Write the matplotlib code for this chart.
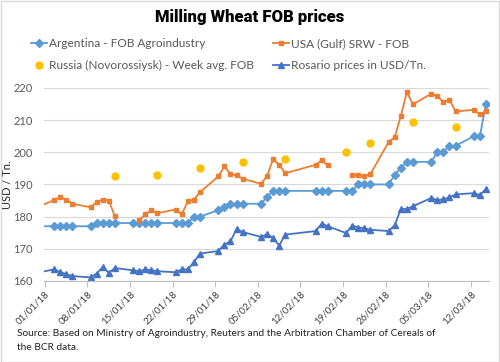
import numpy as np
import pandas as pd
import matplotlib
matplotlib.use("Agg")
import matplotlib.pyplot as plt
from matplotlib.patches import Rectangle

# daily business dates (Jan 15 and Feb 19 are US holidays -> gap in the Gulf series)
dates = ["2017-12-29",
         "2018-01-02", "2018-01-03", "2018-01-04", "2018-01-05",
         "2018-01-08", "2018-01-09", "2018-01-10", "2018-01-11", "2018-01-12",
         "2018-01-15", "2018-01-16", "2018-01-17", "2018-01-18", "2018-01-19",
         "2018-01-22", "2018-01-23", "2018-01-24", "2018-01-25", "2018-01-26",
         "2018-01-29", "2018-01-30", "2018-01-31", "2018-02-01", "2018-02-02",
         "2018-02-05", "2018-02-06", "2018-02-07", "2018-02-08", "2018-02-09",
         "2018-02-14", "2018-02-15", "2018-02-16",
         "2018-02-19", "2018-02-20", "2018-02-21", "2018-02-22", "2018-02-23",
         "2018-02-26", "2018-02-27", "2018-02-28", "2018-03-01", "2018-03-02",
         "2018-03-05", "2018-03-06", "2018-03-07", "2018-03-08", "2018-03-09",
         "2018-03-12", "2018-03-13", "2018-03-14"]

argentina = [177,
             177, 177, 177, 177,
             177, 178, 178, 178, 178,
             178, 178, 178, 178, 178,
             178, 178, 178, 180, 180,
             182, 183, 184, 184, 184,
             184, 186, 188, 188, 188,
             188, 188, 188,
             188, 188, 190, 190, 190,
             190, 193, 195, 197, 197,
             197, 200, 200, 202, 202,
             205, 205, 215]

usa_gulf = [182,
            185.1, 186.0, 185.3, 184.0,
            182.9, 184.5, 185.3, 185.0, 180.1,
            np.nan, 178.9, 180.7, 182.0, 181.1,
            182.2, 180.7, 184.8, 185.3, 187.6,
            192.5, 195.6, 193.2, 192.8, 191.8,
            190.2, 192.5, 197.8, 196.2, 193.5,
            196.1, 197.5, 195.9,
            np.nan, 192.9, 192.9, 192.6, 193.2,
            203.2, 204.7, 211.2, 218.7, 214.9,
            218.2, 217.5, 215.6, 216.4, 212.7,
            213.2, 211.8, 212.7]

rosario = [162,
           163.6, 162.8, 162.1, 161.5,
           161.1, 162.3, 164.3, 162.5, 164.0,
           163.3, 163.0, 163.6, 163.3, 163.0,
           162.7, 163.6, 163.6, 165.9, 168.5,
           169.3, 171.3, 172.3, 176.1, 175.2,
           173.7, 174.5, 173.4, 171.0, 174.4,
           175.5, 177.8, 177.0,
           174.9, 177.2, 176.6, 176.4, 175.9,
           175.5, 177.3, 182.3, 182.4, 183.2,
           185.8, 185.1, 185.4, 186.0, 186.9,
           187.3, 186.7, 188.6]

russia_dates = ["2018-01-12", "2018-01-19", "2018-01-26", "2018-02-02", "2018-02-09",
                "2018-02-19", "2018-02-23", "2018-03-02", "2018-03-09"]
russia = [192.5, 193.0, 195.0, 197.0, 198.0, 200.0, 203.0, 209.5, 208.0]

tick_dates = ["2018-01-01", "2018-01-08", "2018-01-15", "2018-01-22", "2018-01-29",
              "2018-02-05", "2018-02-12", "2018-02-19", "2018-02-26", "2018-03-05",
              "2018-03-12"]

start = pd.Timestamp("2018-01-01")


def to_days(ds, offset=0.5):
    return np.array([(pd.Timestamp(d) - start).days + offset for d in ds])


x = to_days(dates)
x_ru = to_days(russia_dates)
x_ticks = to_days(tick_dates, 0)
tick_labels = [pd.Timestamp(d).strftime("%d/%m/%y") for d in tick_dates]

txt = "#595959"
plt.rcParams['font.family'] = ['Lato', 'DejaVu Sans']

fig = plt.figure(figsize=(5, 3.62), dpi=100)
ax = fig.add_axes([0.088, 0.224, 0.89, 0.533])

ax.plot(x, argentina, color="#5B9BD5", lw=1.3, marker="D", ms=3.8,
        label="Argentina - FOB Agroindustry")
ax.plot(x, usa_gulf, color="#ED7D31", lw=1.3, marker="s", ms=3.5,
        label="USA (Gulf) SRW - FOB")
ax.plot(x_ru, russia, color="#FFC000", lw=0, marker="o", ms=5,
        label="Russia (Novorossiysk) - Week avg. FOB")
ax.plot(x, rosario, color="#4472C4", lw=1.3, marker="^", ms=4.2,
        label="Rosario prices in USD/Tn.")

ax.set_xlim(-0.15, 73.0)
ax.set_ylim(160, 220)
ax.set_yticks(range(160, 221, 10))
ax.yaxis.grid(True, color="#D9D9D9", lw=0.8)
ax.set_axisbelow(True)
ax.tick_params(axis="y", length=0, labelsize=8, colors=txt, pad=8)
ax.set_xticks(x_ticks)
ax.set_xticklabels(tick_labels, rotation=45, ha="right", rotation_mode="anchor")
ax.tick_params(axis="x", length=4, color="#BFBFBF", labelsize=7, labelcolor="#404040", pad=2)
for s in ["top", "right", "left"]:
    ax.spines[s].set_visible(False)
ax.spines["bottom"].set_color("#BFBFBF")
ax.set_ylabel("USD / Tn.", fontsize=8, color="#222222")
ax.yaxis.set_label_coords(-0.07, 0.5)

# legend in two columns, each anchored where the reference puts it
handles, labels = ax.get_legend_handles_labels()
leg_kw = dict(loc="upper left", frameon=False, fontsize=8.6, labelcolor=txt,
              handlelength=1.3, handletextpad=0.15, labelspacing=0.9,
              borderpad=0.2, borderaxespad=0)
fig.legend([handles[0], handles[2]], [labels[0], labels[2]],
           bbox_to_anchor=(0.058, 0.901), **leg_kw)
fig.legend([handles[1], handles[3]], [labels[1], labels[3]],
           bbox_to_anchor=(0.542, 0.901), **leg_kw)

fig.text(0.5, 0.953, "Milling Wheat FOB prices", ha="center", va="center",
         fontsize=12, fontweight="black", family=["Roboto", "DejaVu Sans"])

fig.text(0.034, 1 - 333 / 362, "Source: Based on Ministry of Agroindustry, Reuters and the Arbitration Chamber of Cereals of",
         ha="left", va="center", fontsize=7.3, color="#222222")
fig.text(0.034, 1 - 347 / 362, "the BCR data.",
         ha="left", va="center", fontsize=7.3, color="#222222")

fig.patches.append(Rectangle((0.001, 0.001), 0.997, 0.996, transform=fig.transFigure,
                             fill=False, edgecolor="#D9D9D9", lw=1))

fig.savefig("out.png", dpi=100)
